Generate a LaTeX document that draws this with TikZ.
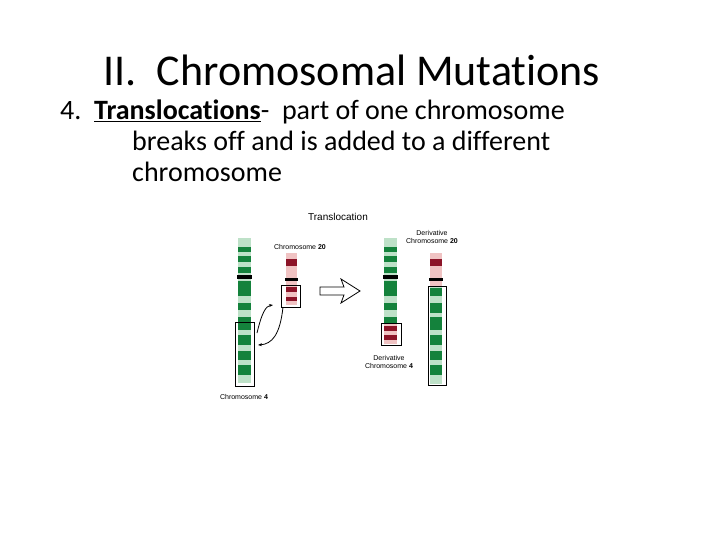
\documentclass[tikz,border=0pt]{standalone}
\usepackage{fontspec}
\setmainfont[Ligatures=NoCommon]{Carlito}
\newfontfamily\labfont{Liberation Sans}
\usetikzlibrary{arrows.meta}
\definecolor{dg}{RGB}{20,130,60}
\definecolor{lg}{RGB}{190,225,200}
\definecolor{dr}{RGB}{140,20,40}
\definecolor{lp}{RGB}{240,195,195}
\tikzset{lab/.style={font=\labfont\fontsize{7}{8}\selectfont,align=center,inner sep=0pt},
 selbox/.style={draw=black,line width=0.6pt},
 band/.style={inner sep=0pt}}
\newcommand{\bands}[4]{% x1,x2,color,list of y1/y2
 \foreach \a/\b in {#4} {\fill[#3] (#1,\a) rectangle (#2,\b);}}
\begin{document}
\begin{tikzpicture}[x=1pt,y=-1pt]
\useasboundingbox (0,0) rectangle (720,540);
\node (title) at (352,70) {\fontsize{44}{48}\selectfont II.\ \ Chromosomal Mutations};
\node[anchor=north west,align=left,inner sep=0pt,font=\fontsize{28}{31}\selectfont] (body) at (60,100) {4.\ \ \underline{\textbf{Translocations}}-\ \ part of one chromosome\\
\hspace*{72pt}breaks off and is added to a different\\
\hspace*{72pt}chromosome};
\node[lab,font=\labfont\fontsize{10}{12}\selectfont] (tl) at (338,217) {Translocation};
% chromosome 4
\fill[lg] (238,238) rectangle (251,383);
\bands{238}{251}{dg}{247/252,256/262,267/273,281/296,303/310,317/330,335/345,351/360,365/375}
\fill[black] (237,275) rectangle (252,279);
\node[selbox,band,minimum width=19pt,minimum height=64pt] (b4) at (244.5,354) {};
\node[lab] (l4) at (244,397) {Chromosome \textbf{4}};
% chromosome 20
\fill[lp] (286,253) rectangle (297,305);
\bands{286}{297}{dr}{259/266,287/292,297/301}
\fill[black] (285,278) rectangle (298,281);
\node[selbox,band,minimum width=19pt,minimum height=22pt] (b20) at (290.5,296) {};
\node[lab] (l20) at (300,247) {Chromosome \textbf{20}};
% curved arrows
\draw[-{Stealth[length=4pt]},thick] (257,333) .. controls (262,312) and (266,306) .. (273,305);
\draw[-{Stealth[length=4pt]},thick] (283,307) .. controls (280,335) and (272,344) .. (258,345);
% big arrow
\draw[line width=0.8pt,fill=white] (320,287) -- (344,287) -- (341,279) -- (360,291) -- (341,303) -- (344,295) -- (320,295) -- cycle;
% derivative 4
\fill[lg] (384,238) rectangle (397,323);
\bands{384}{397}{dg}{247/252,256/262,267/273,281/296,303/310,317/323}
\fill[black] (383,275) rectangle (398,279);
\fill[lp] (384,323) rectangle (397,344);
\bands{384}{397}{dr}{326/331,335/340}
\node[selbox,band,minimum width=20pt,minimum height=22pt] (bd4) at (391,334) {};
\node[lab] (ld4) at (389,362) {Derivative\\Chromosome \textbf{4}};
% derivative 20
\fill[lp] (430,253) rectangle (442,286);
\bands{430}{442}{dr}{259/266}
\fill[black] (429,278) rectangle (443,281);
\fill[lg] (430,286) rectangle (442,384);
\bands{430}{442}{dg}{288/296,303/313,317/330,335/345,351/360,365/375}
\node[selbox,band,minimum width=18pt,minimum height=99pt] (bd20) at (437,335.5) {};
\node[lab] (ld20) at (432,237) {Derivative\\Chromosome \textbf{20}};
\end{tikzpicture}
\end{document}
